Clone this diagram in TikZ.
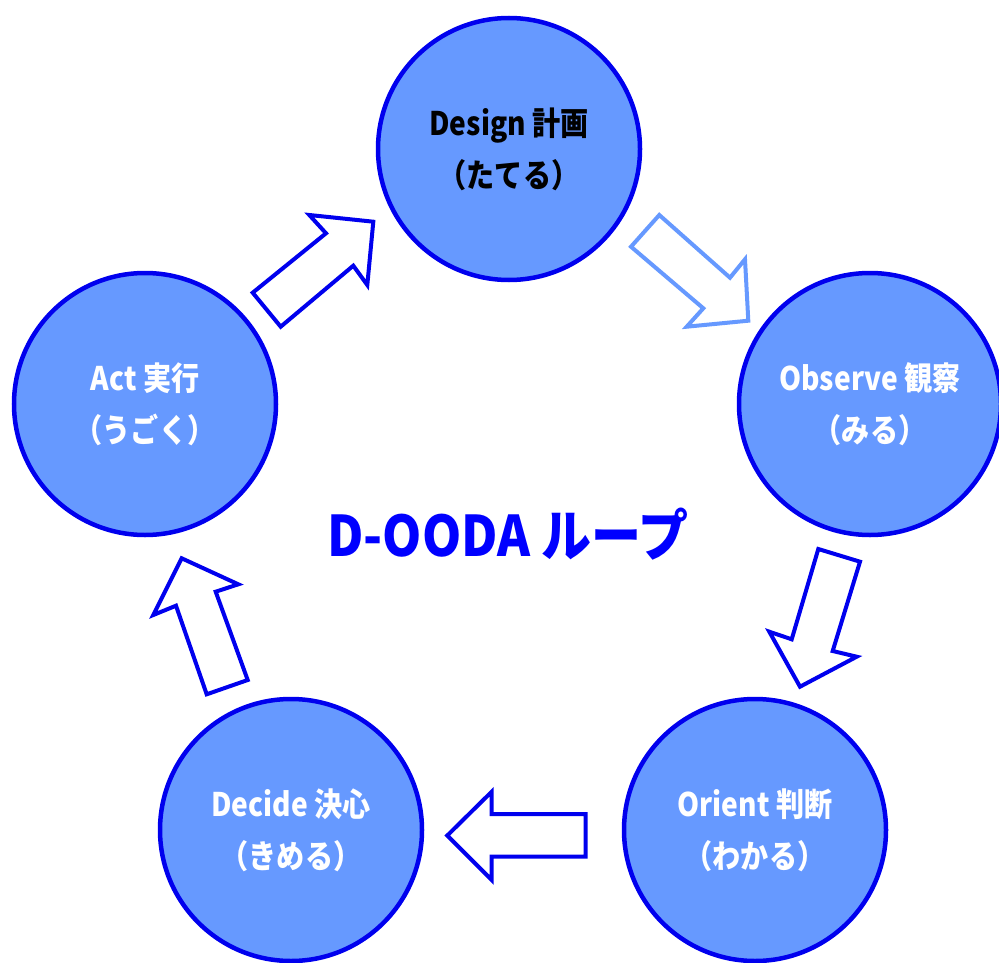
\documentclass[tikz,border=0pt]{standalone}
\usepackage{fontspec}
\newfontfamily\jp{Noto Sans CJK JP}
\usetikzlibrary{positioning}
\definecolor{discfill}{HTML}{6699FF}
\definecolor{rimblue}{HTML}{0000EE}
\definecolor{titleblue}{HTML}{0000FF}
\newcommand{\tall}[1]{\scalebox{0.97}[1.12]{#1}}
\tikzset{
  stage/.style={circle, draw=rimblue, line width=4.5pt, fill=discfill,
    minimum size=262pt, inner sep=0pt, align=center,
    font=\jp\bfseries\fontsize{29}{52}\selectfont, text=white},
  blockarrow/.style={draw=rimblue, fill=white, line width=4pt, line join=miter},
  lightarrow/.style={blockarrow, draw=discfill},
}
\begin{document}
\begin{tikzpicture}[x=1pt,y=-1pt]
\useasboundingbox (0,0) rectangle (999,963);

% the five stages of the loop
\node[stage, text=black] (design)  at (509,149) {\tall{Design 計画}\\\tall{（たてる）}};
\node[stage]             (observe) at (870,404) {\tall{Observe 観察}\\\tall{（みる）}};
\node[stage]             (orient)  at (755,830) {\tall{Orient 判断}\\\tall{（わかる）}};
\node[stage]             (decide)  at (291,830) {\tall{Decide 決心}\\\tall{（きめる）}};
\node[stage]             (act)     at (145,404) {\tall{Act 実行}\\\tall{（うごく）}};

% loop title
\node[font=\jp\bfseries\fontsize{50}{60}\selectfont, text=titleblue] (title) at (508,534)
  {\scalebox{1.0}[1.12]{D-OODA ループ}};

% block arrows between the stages
% act -> design
\draw[blockarrow] (252.7,292.7) -- (326,233.3) -- (309.3,215) -- (373.3,221.7)
  -- (367.3,285) -- (353.3,265.7) -- (280.7,326.7) -- cycle;
% design -> observe
\draw[lightarrow] (631,246.7) -- (703.3,308.3) -- (686.7,326.7) -- (748.3,320.7)
  -- (745,259.3) -- (730,277.7) -- (659.3,215) -- cycle;
% observe -> orient
\draw[blockarrow] (818.3,549) -- (860,561.7) -- (832.7,651) -- (856.7,656.7)
  -- (800,686.7) -- (769.3,631.7) -- (791.7,639.3) -- cycle;
% orient -> decide
\draw[blockarrow] (447.3,835.5) -- (491.7,791.7) -- (491.7,814) -- (585.7,814)
  -- (585.7,856.7) -- (491.7,856.7) -- (491.7,880) -- cycle;
% decide -> act
\draw[blockarrow] (181.7,558.3) -- (238.3,584.3) -- (215.7,591.7) -- (247.7,680)
  -- (206.7,694.3) -- (176,605.7) -- (153.3,615) -- cycle;
\end{tikzpicture}
\end{document}
